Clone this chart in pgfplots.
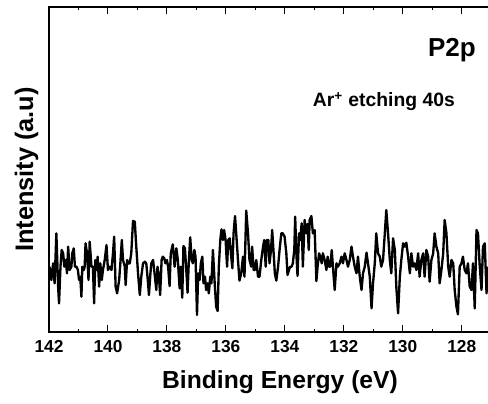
\documentclass[border=0pt]{standalone}
\usepackage{fontspec}
\setmainfont{Liberation Sans}
\usepackage{pgfplots}
\pgfplotsset{compat=1.18}
\begin{document}
\begin{tikzpicture}
\begin{axis}[
  scale only axis,
  width=346.5pt, height=243.75pt,
  at={(0,0)}, anchor=south west,
  x dir=reverse,
  xmin=126.33, xmax=142,
  ymin=24, ymax=999,
  xtick={128,130,...,142},
  minor xtick={129,131,...,141},
  ytick=\empty,
  minor ytick={24,64.625,...,1000},
  major tick length=5.5pt,
  minor tick length=2.3pt,
  tick align=inside,
  tick pos=both,
  every tick/.style={black, line width=0.8pt},
  axis line style={line width=1.2pt},
  /pgf/number format/assume math mode=true,
  /pgf/number format/1000 sep={},
  xticklabel style={font=\fontsize{13}{13}\selectfont\bfseries, anchor=base, yshift=-15.5pt},
  xlabel={Binding Energy (eV)},
  ylabel={Intensity (a.u)},
  xlabel style={font=\fontsize{18.5}{18.5}\selectfont\bfseries, at={(axis description cs:0.5,0)}, anchor=base, yshift=-42pt},
  ylabel style={font=\fontsize{19}{19}\selectfont\bfseries, at={(axis description cs:-0.0346,0.5)}, anchor=base},
]
\addplot[black, line width=1.75pt, line join=round] table {
141.98 220
141.92 180
141.86 230
141.81 170
141.75 320
141.69 160
141.66 110
141.61 220
141.57 270
141.52 260
141.48 220
141.43 240
141.39 200
141.35 280
141.30 210
141.24 220
141.21 260
141.16 275
141.12 220
141.07 220
141.02 210
140.98 180
140.94 190
140.90 130
140.87 220
140.82 210
140.79 220
140.76 290
140.71 260
140.66 180
140.62 295
140.56 220
140.51 220
140.47 110
140.43 240
140.39 210
140.35 250
140.30 160
140.26 230
140.21 180
140.17 210
140.11 240
140.05 285
140.00 210
139.94 220
139.88 210
139.83 260
139.79 310
139.74 160
139.69 140
139.62 180
139.58 230
139.53 300
139.49 240
139.43 220
139.40 165
139.35 240
139.31 230
139.26 230
139.21 260
139.15 357
139.09 355
139.04 280
138.98 200
138.92 135
138.87 190
138.81 230
138.75 235
138.70 230
138.64 170
138.61 135
138.56 200
138.53 230
138.47 240
138.42 200
138.36 150
138.32 220
138.27 190
138.23 135
138.18 240
138.14 250
138.09 245
138.05 230
138.00 240
137.96 220
137.91 162
137.87 260
137.80 287
137.74 220
137.68 275
137.63 240
137.57 155
137.53 220
137.48 127
137.44 282
137.39 275
137.35 220
137.30 142
137.26 230
137.21 308
137.16 240
137.12 230
137.07 270
137.03 250
136.98 75
136.94 200
136.89 180
136.85 230
136.80 250
136.76 170
136.71 190
136.67 150
136.62 170
136.58 140
136.53 190
136.49 170
136.44 270
136.38 170
136.33 100
136.28 87
136.24 220
136.19 300
136.15 332
136.10 300
136.06 330
136.01 300
135.96 220
135.92 300
135.87 305
135.83 260
135.78 215
135.74 320
135.69 372
135.65 320
135.59 240
135.54 178
135.48 200
135.42 250
135.37 190
135.31 388
135.25 320
135.20 240
135.14 220
135.11 280
135.06 210
135.02 210
134.97 240
134.91 190
134.86 190
134.80 240
134.74 280
134.70 300
134.65 220
134.61 300
134.56 300
134.52 230
134.47 270
134.43 330
134.38 260
134.34 200
134.29 178
134.23 220
134.18 270
134.12 320
134.07 320
134.01 310
133.95 260
133.91 195
133.86 210
133.82 220
133.77 220
133.73 230
133.68 270
133.65 370
133.61 260
133.57 192
133.52 320
133.48 300
133.43 350
133.39 220
133.33 360
133.27 320
133.23 348
133.19 270
133.16 360
133.10 372
133.05 320
132.99 330
132.93 177
132.89 220
132.84 260
132.80 250
132.75 230
132.71 260
132.65 240
132.59 210
132.55 250
132.50 220
132.46 220
132.41 270
132.37 220
132.31 150
132.25 230
132.20 220
132.14 230
132.08 250
132.03 230
131.97 260
131.91 240
131.86 220
131.80 240
131.74 280
131.69 250
131.63 220
131.57 200
131.52 250
131.46 190
131.40 150
131.35 200
131.29 220
131.23 262
131.18 230
131.12 190
131.06 95
131.01 170
130.95 230
130.90 320
130.84 260
130.78 250
130.73 220
130.67 240
130.61 320
130.56 390
130.50 320
130.44 240
130.39 200
130.33 305
130.27 270
130.22 160
130.16 80
130.10 190
130.05 240
129.99 290
129.93 280
129.88 292
129.82 250
129.76 200
129.71 260
129.65 220
129.60 230
129.54 210
129.48 260
129.43 190
129.37 240
129.31 260
129.26 190
129.20 270
129.14 250
129.09 175
129.03 240
128.97 260
128.92 320
128.86 280
128.80 260
128.75 170
128.69 210
128.63 260
128.58 360
128.52 320
128.46 220
128.41 190
128.35 240
128.29 230
128.24 150
128.18 100
128.13 77
128.07 220
128.01 230
127.96 250
127.90 210
127.84 200
127.79 230
127.73 160
127.67 150
127.62 230
127.56 95
127.50 330
127.45 320
127.39 220
127.33 150
127.28 280
127.22 290
127.16 140
127.12 220
};
\node[anchor=base west, font=\fontsize{19.5}{19.5}\selectfont\bfseries, inner sep=0pt] at (axis cs:129.15,849) {P2p};
\node[anchor=base west, font=\fontsize{14.5}{14.5}\selectfont\bfseries, inner sep=0pt] at (axis cs:133.055,699) {Ar\textsuperscript{+} etching 40s};
\end{axis}
\pgfresetboundingbox
\path[use as bounding box] (-36.75pt,-53.25pt) rectangle (329.25pt,249pt);
\end{tikzpicture}
\end{document}
